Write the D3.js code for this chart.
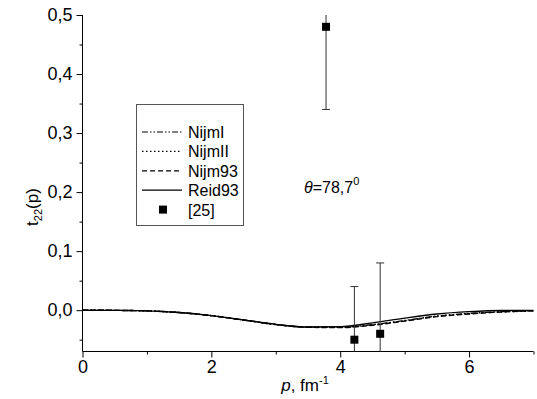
<!DOCTYPE html>
<html><head><meta charset="utf-8">
<script src="https://cdn.jsdelivr.net/npm/d3@7"></script>
<style>body{margin:0;background:#fff;} svg{display:block;font-family:"Liberation Sans",Arial,sans-serif;}</style>
</head><body><svg id="c" width="537" height="399"></svg>
<script>
const pGrid = [0, 0.5, 1, 1.5, 2, 2.5, 3, 3.5, 4, 4.5, 5, 5.5, 6, 6.5, 7];
const reid93 = [0, -0.0003, -0.0012, -0.004, -0.0092, -0.0165, -0.0240, -0.0285, -0.0282, -0.0215, -0.0135, -0.0065, -0.0025, -0.0005, -0.0005];
const nijm93 = [0, -0.0003, -0.0012, -0.004, -0.0093, -0.0167, -0.0243, -0.0290, -0.0295, -0.0255, -0.0185, -0.0110, -0.0065, -0.0030, -0.0010];
const nijmII = [0, -0.0003, -0.0012, -0.004, -0.0093, -0.0167, -0.0243, -0.0289, -0.0292, -0.0250, -0.0180, -0.0105, -0.0060, -0.0030, -0.0015];
const nijmI  = [0, -0.0003, -0.0012, -0.004, -0.0093, -0.0167, -0.0243, -0.0289, -0.0290, -0.0245, -0.0175, -0.0100, -0.0055, -0.0025, -0.0010];
const expP = [3.78, 4.22, 4.62];
const expT = [0.48, -0.05, -0.04];
const expErr = [0.14, 0.09, 0.12];
const xTicks = [0, 2, 4, 6];
const yTicks = [0, 0.1, 0.2, 0.3, 0.4, 0.5];

const svg = d3.select("#c");
const L = 82.5, R = 533.5, T = 15, B = 351.5;
const x = d3.scaleLinear().domain([0, 7]).range([L, R]);
const y = d3.scaleLinear().domain([-0.07, 0.5]).range([B, T]);

svg.append("clipPath").attr("id", "clip").append("rect")
  .attr("x", L).attr("y", T).attr("width", R - L).attr("height", B - T);

const fmt = d => d3.format(".1f")(d).replace(".", ",");

// y axis
const ya = svg.append("g").attr("transform", `translate(${L},0)`);
ya.call(d3.axisLeft(y).tickValues(yTicks).tickFormat(fmt).tickSize(6).tickPadding(4));
ya.append("g").call(d3.axisLeft(y).tickValues([-0.05, 0.05, 0.15, 0.25, 0.35, 0.45]).tickFormat("").tickSize(3));
ya.selectAll(".domain").remove();
ya.append("line").attr("x1", 0).attr("x2", 0).attr("y1", T).attr("y2", B).attr("stroke", "#000");
// x axis
const xa = svg.append("g").attr("transform", `translate(0,${B})`);
xa.call(d3.axisBottom(x).tickValues(xTicks).tickFormat(d3.format("d")).tickSize(6).tickPadding(3));
xa.append("g").call(d3.axisBottom(x).tickValues([1, 3, 5, 7]).tickFormat("").tickSize(3));
xa.selectAll(".domain").remove();
xa.append("line").attr("x1", L).attr("x2", R).attr("y1", 0).attr("y2", 0).attr("stroke", "#000");
svg.selectAll(".tick line").attr("stroke", "#000");
svg.selectAll(".tick text").attr("font-size", 18).attr("fill", "#000")
  .attr("font-family", '"Liberation Sans",Arial,sans-serif');

// axis titles
svg.append("text").attr("transform", "translate(38,207) rotate(-90)")
  .attr("text-anchor", "middle").attr("font-size", 17)
  .html('t<tspan font-size="11" dy="4">22</tspan><tspan dy="-4">(p)</tspan>');
svg.append("text").attr("x", 305).attr("y", 391).attr("text-anchor", "middle").attr("font-size", 17)
  .html('<tspan font-style="italic">p</tspan>, fm<tspan font-size="11" dy="-7">-1</tspan>');

// curves
const plot = svg.append("g").attr("clip-path", "url(#clip)");
const line = d3.line().x((d, i) => x(pGrid[i])).y(d => y(d)).curve(d3.curveMonotoneX);
const series = [
  {v: nijmI, dash: "6,2,1.5,2,1.5,2"},
  {v: nijmII, dash: "1.5,2.5"},
  {v: nijm93, dash: "5,3"},
  {v: reid93, dash: null}
];
series.forEach(s => {
  plot.append("path").attr("d", line(s.v)).attr("fill", "none").attr("stroke", "#000")
    .attr("stroke-width", 1.4).attr("stroke-dasharray", s.dash);
});

// error bars and points
expP.forEach((p, i) => {
  const cx = x(p), y1 = y(expT[i] - expErr[i]), y2 = y(expT[i] + expErr[i]);
  plot.append("line").attr("x1", cx).attr("x2", cx).attr("y1", y1).attr("y2", y2).attr("stroke", "#333").attr("stroke-width", 1);
  [y1, y2].forEach(yy => plot.append("line").attr("x1", cx - 4).attr("x2", cx + 4).attr("y1", yy).attr("y2", yy).attr("stroke", "#333").attr("stroke-width", 1));
  plot.append("rect").attr("x", cx - 4).attr("y", y(expT[i]) - 4).attr("width", 8).attr("height", 8).attr("fill", "#000");
});

// legend
const lg = svg.append("g");
lg.append("rect").attr("x", 136.5).attr("y", 104.5).attr("width", 107).attr("height", 121)
  .attr("fill", "#fff").attr("stroke", "#555").attr("stroke-width", 1);
const names = ["NijmI", "NijmII", "Nijm93", "Reid93"];
names.forEach((n, i) => {
  const yy = 132 + i * 19.4;
  lg.append("line").attr("x1", 142).attr("x2", 182).attr("y1", yy).attr("y2", yy).attr("stroke", "#000")
    .attr("stroke-width", 1.2).attr("stroke-dasharray", series[i].dash);
  lg.append("text").attr("x", 188).attr("y", yy + 6).attr("font-size", 16).text(n);
});
const ly = 132 + 4 * 19.4;
lg.append("rect").attr("x", 159).attr("y", ly - 4).attr("width", 8).attr("height", 8).attr("fill", "#000");
lg.append("text").attr("x", 188).attr("y", ly + 6).attr("font-size", 16).text("[25]");

// theta annotation
svg.append("text").attr("x", 304).attr("y", 193).attr("font-size", 16)
  .html('<tspan font-style="italic">θ</tspan>=78,7<tspan font-size="11" dy="-8">0</tspan>');
</script></body></html>
